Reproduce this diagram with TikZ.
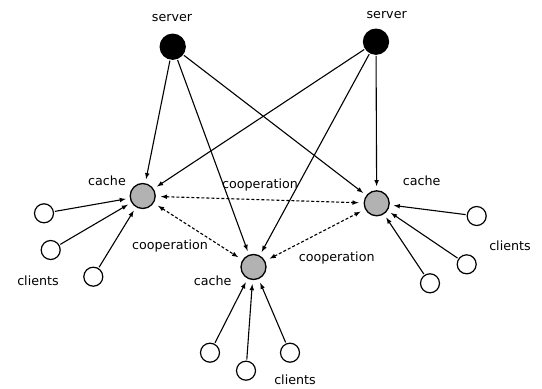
\documentclass[tikz,border=0pt]{standalone}
\usepackage{fontspec}
\setmainfont{DejaVu Sans}
\usepackage{tikz}
\usetikzlibrary{arrows,shapes}
\usetikzlibrary{calc}
\tikzstyle{server}=[circle,fill=black,draw,line width=1.3pt,minimum size=25pt,inner sep=0pt]
\tikzstyle{cache}=[circle,fill=black!30,draw,line width=1.3pt,minimum size=25pt,inner sep=0pt]
\tikzstyle{client}=[circle,fill=white,draw,line width=1.2pt,minimum size=19pt,inner sep=0pt]
\tikzstyle{edge} = [draw,line width=1.1pt,->,>=latex,shorten >=4pt,shorten <=1pt]
\tikzstyle{coopedge} = [draw,line width=1.1pt,dash pattern=on 3pt off 2pt,<->,>=latex,shorten >=5pt,shorten <=5pt]
\tikzstyle{label} = [font=\fontsize{12.7}{14}\selectfont,inner sep=1pt]

\begin{document}
\begin{tikzpicture}[x=1pt,y=-1pt]
    \useasboundingbox (0,0) rectangle (542,389);
    % servers and caches
    \foreach \pos/\name in {{(172.7,46.7)/S1}, {(376,41.7)/S2}}
        \node[server] (\name) at \pos {};
    \foreach \pos/\name in {{(142.7,196)/CL}, {(376.7,203.3)/CR}, {(253.5,267)/CB}}
        \node[cache] (\name) at \pos {};

    % clients
    \foreach \pos/\name in {{(44,213.3)/L1}, {(50.7,250)/L2}, {(93.3,276.7)/L3},
                            {(476.7,216)/R1}, {(466.7,264.3)/R2}, {(430,283.3)/R3},
                            {(210,352.7)/B1}, {(246,370.7)/B2}, {(290,352.7)/B3}}
        \node[client] (\name) at \pos {};

    % server to cache
    \foreach \source/ \dest in {S1/CL, S1/CB, S1/CR, S2/CL, S2/CB, S2/CR}
          \path[edge] (\source) -- (\dest);

    % clients to cache
    \foreach \source/ \dest in {L1/CL, L2/CL, L3/CL, R1/CR, R2/CR, R3/CR, B1/CB, B2/CB, B3/CB}
          \path[edge] (\source) -- (\dest);

    % cooperation
    \foreach \source/ \dest in {CL/CR, CL/CB, CB/CR}
          \path[coopedge] (\source) -- (\dest);

    % texts
    \foreach \pos/\name/\text in {{(172,18.3)/tS1/server}, {(386.7,15)/tS2/server},
                                  {(107,181)/tCL/cache}, {(421.7,181)/tCR/cache}, {(212.7,281)/tCB/cache},
                                  {(38,281)/tL/clients}, {(510,246)/tR/clients}, {(295,380)/tB/clients},
                                  {(260,185)/tC1/cooperation}, {(170,246)/tC2/cooperation}, {(336.7,258.3)/tC3/cooperation}}
        \node[label] (\name) at \pos {\text};
\end{tikzpicture}
\end{document}
